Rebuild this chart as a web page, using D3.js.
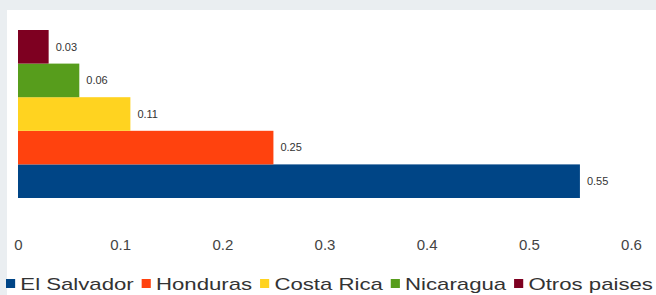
<!DOCTYPE html>
<html>
<head>
<meta charset="utf-8">
<script src="https://cdn.jsdelivr.net/npm/d3@7"></script>
<style>
    body { margin: 0; background: #eaeef1; }
    .canvas { width: 656px; height: 295px; }
    text { font-family: "Liberation Sans", Arial, sans-serif; }
</style>
</head>
<body>
<div class="canvas"></div>
<script>
const categories = ["El Salvador", "Honduras", "Costa Rica", "Nicaragua", "Otros paises"];
const values = [0.55, 0.25, 0.11, 0.06, 0.03];
const colors = ["#004586", "#ff420e", "#ffd320", "#579d1c", "#7e0021"];
const ticks = [0, 0.1, 0.2, 0.3, 0.4, 0.5, 0.6];

const width = 656, height = 295;

const svg = d3.select(".canvas")
    .append("svg")
    .attr("width", width)
    .attr("height", height);

// white plot area, gray strip left / top like the screenshot
svg.append("rect")
    .attr("x", 7)
    .attr("y", 10)
    .attr("width", width - 7)
    .attr("height", height - 10)
    .attr("fill", "#ffffff");

const data = categories.map((c, i) => ({ name: c, value: values[i], color: colors[i] }));

const x = d3.scaleLinear()
    .domain([0, 0.6])
    .range([18, 631]);

// biggest bar at the bottom
const y = d3.scaleBand()
    .domain(categories.slice().reverse())
    .range([30, 198])
    .paddingInner(0);

const bars = svg.selectAll(".bar")
    .data(data)
    .enter()
    .append("g")
    .attr("class", "bar")
    .attr("transform", d => "translate(0," + y(d.name) + ")");

bars.append("rect")
    .attr("x", x(0))
    .attr("width", d => x(d.value) - x(0))
    .attr("height", y.bandwidth())
    .attr("fill", d => d.color);

bars.append("text")
    .attr("x", d => x(d.value) + 7)
    .attr("y", y.bandwidth() / 2)
    .attr("dy", "0.35em")
    .attr("font-size", "11px")
    .attr("fill", "#333")
    .text(d => d.value.toFixed(2));

// x axis: labels only
const axis = d3.axisBottom(x)
    .tickValues(ticks)
    .tickFormat(d => d === 0 ? "0" : d3.format(".1f")(d))
    .tickSize(0)
    .tickPadding(0);

const gx = svg.append("g")
    .attr("transform", "translate(0,239)")
    .call(axis);
gx.select(".domain").remove();
gx.selectAll("text")
    .attr("font-family", "Liberation Sans, Arial, sans-serif")
    .attr("font-size", "15px")
    .attr("fill", "#444");

// legend
const legend = svg.append("g")
    .attr("class", "legend");

let lx = 0;
data.forEach(d => {
    const item = legend.append("g").attr("transform", "translate(" + lx + ",0)");
    item.append("rect")
        .attr("x", 0)
        .attr("y", -11)
        .attr("width", 7)
        .attr("height", 9)
        .attr("fill", d.color);
    const t = item.append("text")
        .attr("x", 11)
        .attr("y", 0)
        .attr("font-size", "17px")
        .attr("fill", "#333")
        .text(d.name);
    lx += 11 + t.node().getComputedTextLength() + 6;
});

// stretch the legend row across the bottom
const k = (653 - 6) / (lx - 6);
legend.attr("transform", "translate(6,290) scale(" + k + ",1)");
</script>
</body>
</html>
